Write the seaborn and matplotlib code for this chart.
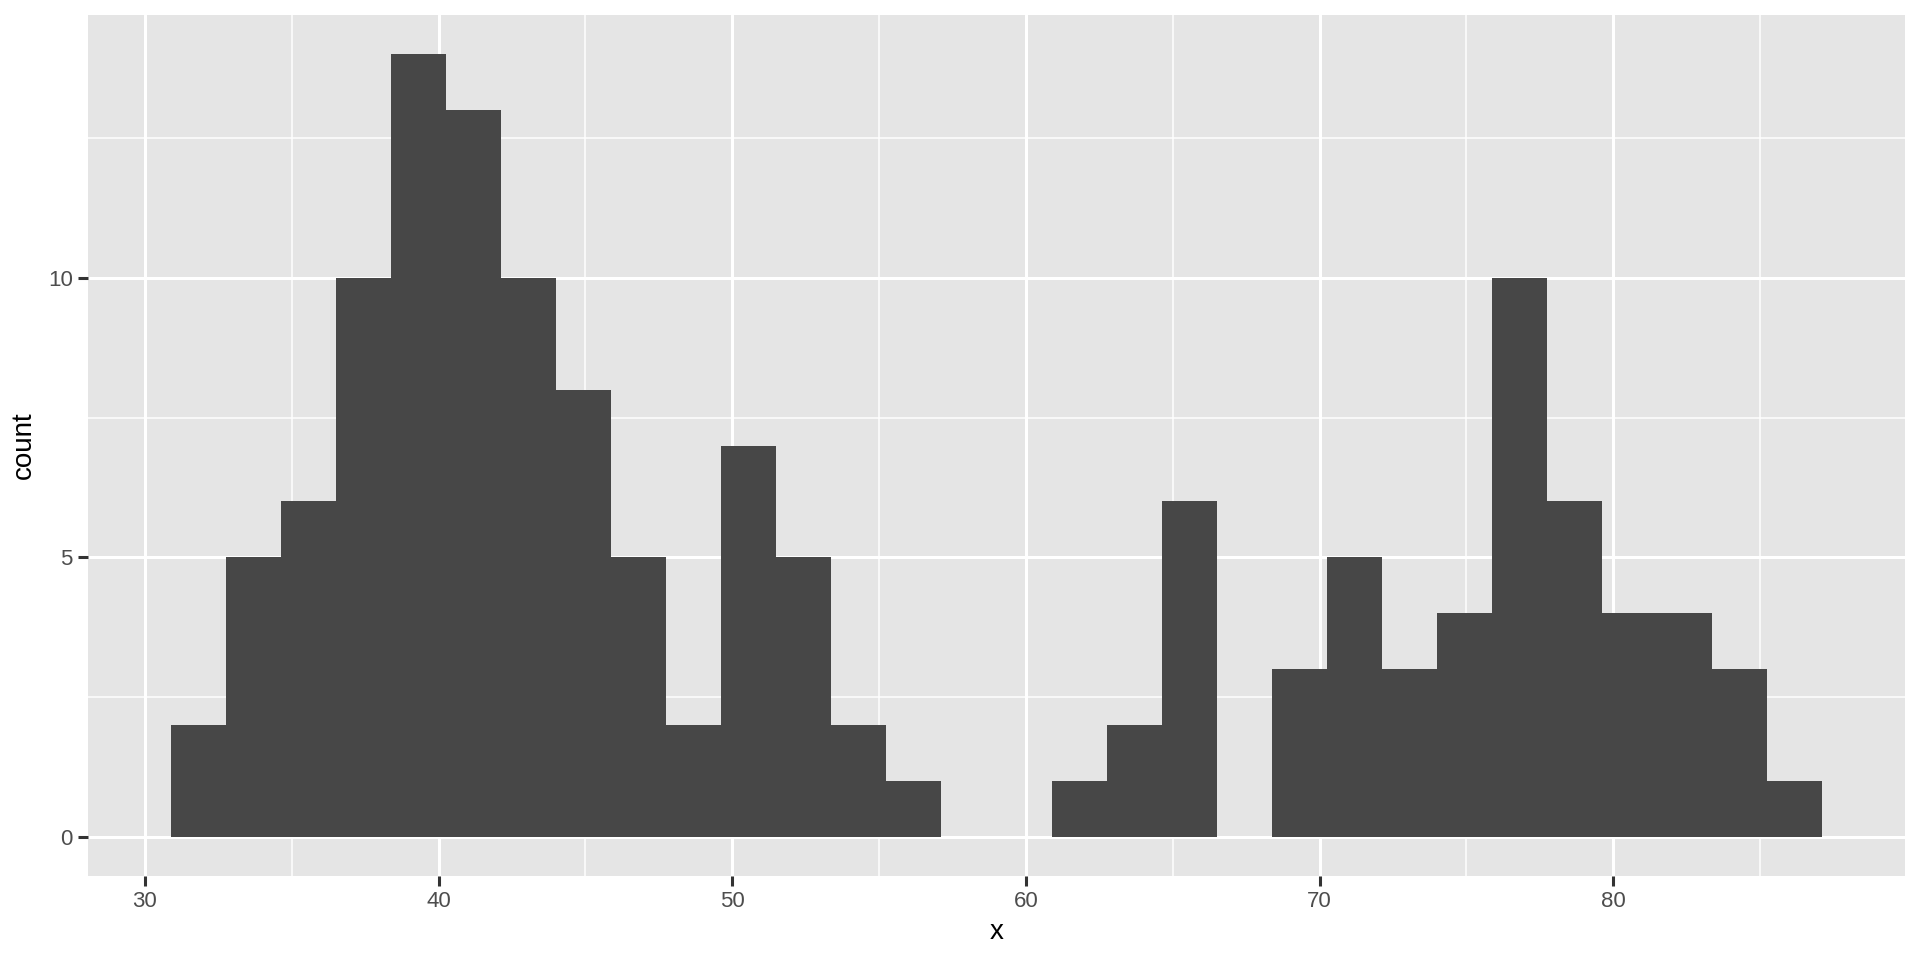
# Histogram in the ggplot2 grey style, drawn with seaborn
import matplotlib
matplotlib.use("Agg")
import matplotlib.pyplot as plt
from matplotlib.ticker import MultipleLocator
import numpy as np
import seaborn as sns

# Bin grid (30 bins) and the counts
bin_start = 30.875
bin_width = 1.875
counts = [2, 5, 6, 10, 14, 13, 10, 8, 5, 2,
          7, 5, 2, 1, 0, 0, 1, 2, 6, 0,
          3, 5, 3, 4, 10, 6, 4, 4, 3, 1]
bin_centers = bin_start + bin_width * (np.arange(len(counts)) + 0.5)
x_ticks = [30, 40, 50, 60, 70, 80]
y_ticks = [0, 5, 10]

sns.set_style("darkgrid", {"axes.facecolor": "#E5E5E5", "grid.color": "white"})
plt.rcParams["font.family"] = ["Liberation Sans", "DejaVu Sans"]

fig = plt.figure(figsize=(19.2, 9.6), dpi=100)
ax = fig.add_axes([88 / 1920, 84 / 960, 1817 / 1920, 861 / 960])

bin_end = bin_start + bin_width * len(counts)
sns.histplot(x=bin_centers, weights=counts, binwidth=bin_width,
             binrange=(bin_start, bin_end), color="#474747",
             alpha=1, linewidth=0, ax=ax, zorder=3)

# ggplot-like expansion of the scales
x_pad = (bin_end - bin_start) * 0.05
ax.set_xlim(bin_start - x_pad, bin_end + x_pad)
ax.set_ylim(-0.7, 14.7)

ax.set_xticks(x_ticks)
ax.set_yticks(y_ticks)
ax.xaxis.set_minor_locator(MultipleLocator(5))
ax.yaxis.set_minor_locator(MultipleLocator(2.5))
ax.set_axisbelow(True)
ax.grid(which="major", color="white", linewidth=2.2)
ax.grid(which="minor", color="white", linewidth=1.1)

ax.tick_params(axis="both", which="major", bottom=True, left=True,
               length=7, width=2.2, color="#333333", labelsize=16,
               labelcolor="#4D4D4D", pad=4)
ax.tick_params(axis="both", which="minor", length=0)
for spine in ax.spines.values():
    spine.set_visible(False)

ax.set_xlabel("x", fontsize=20, color="black", labelpad=5)
ax.set_ylabel("count", fontsize=20, color="black", labelpad=8)

fig.savefig("out.png", dpi=100)
